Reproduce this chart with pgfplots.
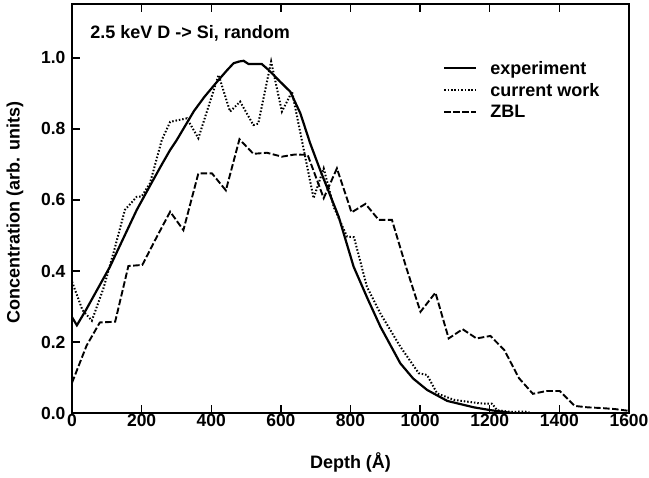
\documentclass[border=0pt]{standalone}
\usepackage{fontspec}
\setmainfont{Liberation Sans}
\usepackage{pgfplots}
\pgfplotsset{compat=1.18}
\begin{document}
\begin{tikzpicture}
\useasboundingbox (-72pt,-65pt) rectangle (577pt,413pt);
\begin{axis}[
  scale only axis, width=557pt, height=409pt,
  xmin=0, xmax=1600, ymin=0, ymax=1.152,
  xtick={0,200,400,600,800,1000,1200,1400,1600},
  ytick={0,0.2,0.4,0.6,0.8,1.0},
  xtick pos=both, ytick pos=left, tick align=inside,
  major tick length=8pt,
  axis line style={line width=1.8pt},
  every tick/.style={line width=1.4pt, black},
  /pgf/number format/assume math mode=true,
  tick label style={font=\fontsize{17.5}{20}\selectfont\bfseries},
  yticklabel style={/pgf/number format/fixed, /pgf/number format/precision=1, /pgf/number format/fixed zerofill, xshift=-3pt},
  xticklabel style={/pgf/number format/1000 sep={}, yshift=2pt},
  xlabel={Depth (Å)}, ylabel={Concentration (arb. units)},
  label style={font=\fontsize{18}{21}\selectfont\bfseries},
  xlabel style={at={(axis description cs:0.5,0)}, anchor=center, yshift=-49pt},
  ylabel style={at={(axis description cs:0,0.49)}, anchor=center, yshift=57pt},
  legend style={draw=none, fill=none, at={(0.666,0.866)}, anchor=north west,
    font=\fontsize{18}{21}\selectfont\bfseries, inner sep=0pt, row sep=3.5pt},
  legend cell align=left,
  legend image code/.code={\draw[#1] (0pt,0pt) -- (32pt,0pt); \path[draw=none,fill=none] (0pt,0pt) -- (44pt,0pt);},
]
\addplot[black, line width=2.2pt] coordinates {
(0,0.27) (14,0.247) (40,0.29) (109,0.412) (186,0.572) (224,0.64) (258,0.70)
(282,0.741) (301,0.769) (350,0.85) (380,0.89) (421,0.938) (445,0.965)
(464,0.985) (480,0.99) (493,0.992) (507,0.983) (545,0.983) (565,0.966)
(598,0.933) (627,0.905) (656,0.844) (684,0.76) (713,0.684) (747,0.6)
(766,0.553) (809,0.412) (850,0.32) (886,0.243) (943,0.14) (980,0.097)
(1020,0.065) (1078,0.034) (1154,0.016) (1202,0.008) (1265,0.0)
};
\addlegendentry{experiment}
\addplot[black, line width=2pt, dash pattern=on 1.5pt off 1.9pt] coordinates {
(0,0.37) (30,0.29) (57,0.26) (90,0.35) (119,0.45) (152,0.572) (186,0.609)
(200,0.61) (224,0.647) (258,0.769) (282,0.82) (330,0.83) (363,0.774)
(421,0.952) (454,0.849) (483,0.877) (521,0.811) (535,0.815) (572,0.99)
(603,0.849) (632,0.905) (694,0.605) (723,0.689) (752,0.58) (790,0.497)
(810,0.495) (847,0.356) (886,0.28) (943,0.187) (996,0.112) (1020,0.107)
(1049,0.055) (1097,0.037) (1173,0.027) (1207,0.026) (1221,0.008)
(1260,0.003) (1300,0.004) (1320,0.0)
};
\addlegendentry{current work}
\addplot[black, line width=1.9pt, dash pattern=on 6.5pt off 2.5pt] coordinates {
(0,0.085) (42,0.19) (80,0.255) (124,0.257) (162,0.414) (202,0.417)
(243,0.495) (282,0.567) (320,0.515) (363,0.675) (402,0.675) (442,0.627)
(481,0.771) (521,0.73) (560,0.733) (603,0.722) (640,0.728) (677,0.727)
(723,0.605) (761,0.689) (803,0.565) (843,0.589) (881,0.544) (919,0.544)
(960,0.41) (1001,0.285) (1044,0.339) (1082,0.21) (1122,0.236)
(1162,0.21) (1202,0.217) (1242,0.177) (1284,0.098) (1324,0.054)
(1363,0.062) (1401,0.062) (1444,0.02) (1480,0.016) (1520,0.014)
(1560,0.011) (1600,0.006)
};
\addlegendentry{ZBL}
\node[anchor=west, font=\fontsize{18}{21}\selectfont\bfseries, inner sep=0pt] at (axis cs:52,1.068) {2.5 keV D -> Si, random};
\end{axis}
\end{tikzpicture}
\end{document}
